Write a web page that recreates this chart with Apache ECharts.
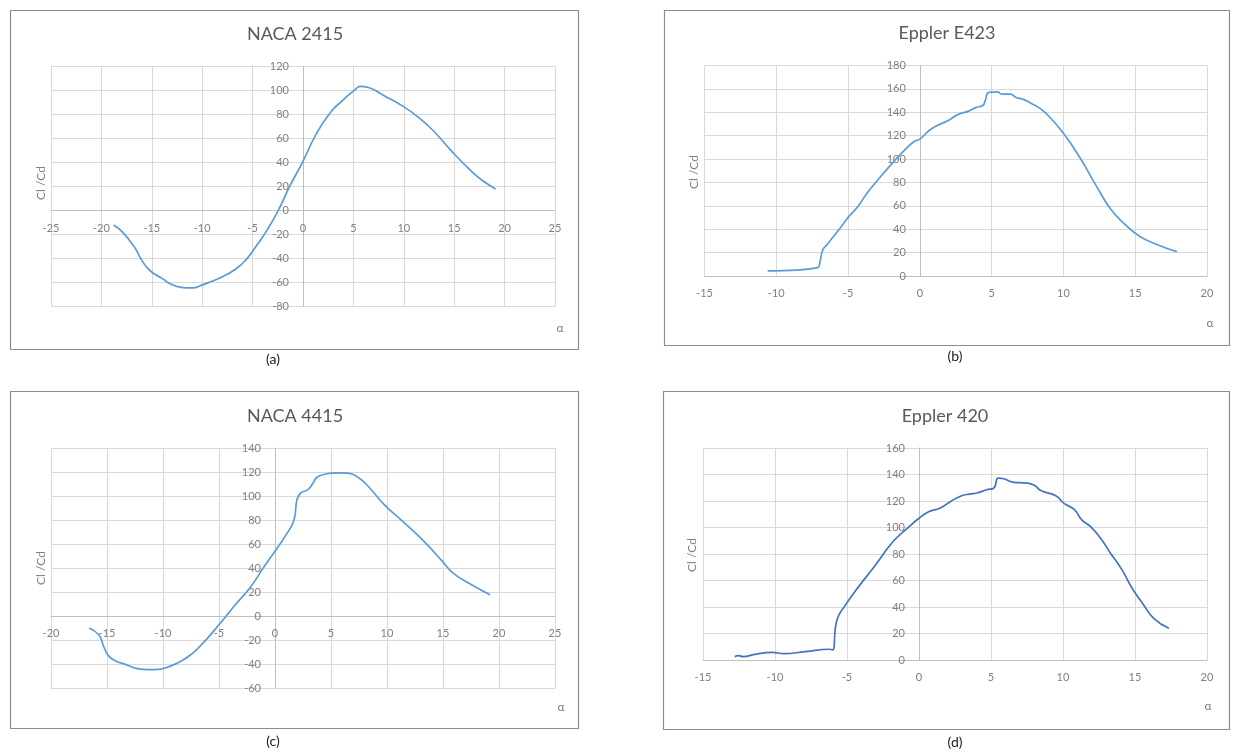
<!DOCTYPE html>
<html>
<head>
<meta charset="utf-8">
<script src="https://cdn.jsdelivr.net/npm/echarts@6/dist/echarts.min.js"></script>
<style>
html,body{margin:0;padding:0;background:#fff;}
#main{width:1239px;height:753px;}
</style>
</head>
<body>
<div id="main"></div>
<script>
// ---- Data (angle of attack α, Cl/Cd) ----
const titles = ['NACA 2415', 'Eppler E423', 'NACA 4415', 'Eppler 420'];
const captions = ['(a)', '(b)', '(c)', '(d)'];

const alphaA = [-18.8,-17.9,-16.6,-16.1,-15.2,-13.9,-13.2,-12.1,-11.0,-10.0,-8.2,-6.7,-5.6,-4.5,-3.5,-2.4,-1.3,0,1.2,2.7,4.1,5.2,5.7,6.5,8.1,9.9,11.7,13.1,14.9,16.8,17.8,19.1];
const ratioA = [-12,-18,-32,-40,-50,-57,-61,-64,-64.5,-62,-56,-49,-40.5,-28,-15.5,1,20.5,41,62,81.5,93,101,103.5,102.5,95.5,87,76,65,48,32,25,18];

const alphaB = [-10.6,-7.1,-6.97,-6.77,-6.46,-5.45,-4.94,-4.3,-3.67,-2.9,-1.9,-1.15,-0.4,0,0.6,1.1,1.9,2.65,3.4,3.9,4.4,4.55,4.8,5.4,5.7,6.3,6.7,7.2,7.7,8.5,9.2,10.0,10.8,11.5,12.3,13.3,14.3,15.3,16.5,17.9];
const ratioB = [4.3,7.1,11.4,22,27,42.6,51,59.7,71,82.5,96.7,106.6,115,117,124,128,132.5,138,141,144,146,150,157,157.5,155.5,155.5,152.7,151,148,142,133.8,122,108,94,76.8,57,44,34,27,20.8];

const alphaC = [-16.6,-15.7,-15.35,-14.9,-14.25,-13.3,-12.3,-11.3,-10.4,-9.4,-8.4,-7.45,-6.5,-5.5,-4.5,-3.55,-2.25,-0.95,0,1.0,1.7,1.96,2.29,2.94,3.4,3.75,4.55,5.5,6.5,7.5,8.45,9.75,11.4,13.3,14.95,15.9,17.55,19.2];
const ratioC = [-10,-16,-24,-32.8,-37.2,-40.5,-43.9,-44.7,-44.4,-42,-37.8,-31.7,-23.3,-12.8,-1.7,9.4,23.3,41.4,54,67.8,80.3,97,102.5,105.3,110.8,115.6,118.3,119.2,119,115,106.7,92.8,78.9,62.2,45.5,35.8,26.1,17.8];

const alphaD = [-12.8,-12.55,-12.2,-11.4,-10.2,-9.4,-7.9,-6.2,-6.0,-5.7,-5.1,-4.1,-3.1,-1.8,-0.8,0,0.7,1.45,2.2,2.96,3.5,4.0,4.7,5.2,5.5,5.9,6.5,7.5,8.0,8.5,9.5,10.05,10.8,11.3,11.9,12.6,13.3,14.1,14.8,15.6,16.3,17.35];
const ratioD = [2.5,3.3,2.5,4.3,5.8,4.8,6.3,8.1,7.6,30.2,41.6,56.7,70.5,89.4,99.5,107,112,114.6,119.7,124,125.2,126,128.5,129.8,137.3,136.8,134.3,133.5,131.8,127.7,124,118.4,113.4,105.8,100.8,92,80.6,68,54.2,41.6,31.5,23.9];

const xRanges = [[-25,25],[-15,20],[-20,25],[-15,20]];
const yRanges = [[-80,120],[0,180],[-60,140],[0,160]];
const xNames = ['α','α','α','α'];
const yNames = ['Cl /Cd','Cl /Cd','Cl /Cd','Cl /Cd'];

// ---- Layout ----
const FONT = 'Lato, "Open Sans", sans-serif';
const grids = [
  {left:51, top:66.5, width:504, height:240},
  {left:704.5, top:65.5, width:502.5, height:210.5},
  {left:51, top:448, width:504, height:240},
  {left:703, top:448, width:504, height:212}
];
const boxes = [
  {x:10.5, y:10.5, w:568, h:339},
  {x:664.5, y:10.5, w:565, h:335},
  {x:10.5, y:391.5, w:568, h:337},
  {x:663.5, y:391.5, w:566, h:338}
];
const titlePos = [[295,34],[947,33],[295,416],[945,416]];
const captionPos = [[273,359],[955,356],[273,741],[955,742]];
const alphaPos = [[560,328],[1210,323],[561,707],[1208,706]];
const ylabPos = [[41,183],[694,172],[41,568],[692,555]];
const lineColors = ['#5b9bd5','#5b9bd5','#5b9bd5','#4472c4'];
const xs = [alphaA, alphaB, alphaC, alphaD];
const ys = [ratioA, ratioB, ratioC, ratioD];

// axes cross at zero (Excel style): shift axes from the grid edge to the zero position
function zeroShift(range, size) { return size * (0 - range[0]) / (range[1] - range[0]); }

const option = {
  animation:false,
  backgroundColor:'#fff',
  grid: grids.map(g => Object.assign({containLabel:false}, g)),
  xAxis: grids.map((g,i) => ({
    type:'value', gridIndex:i, min:xRanges[i][0], max:xRanges[i][1], interval:5,
    position:'bottom', offset:-zeroShift(yRanges[i], g.height),
    axisLine:{show:true, onZero:false, lineStyle:{color:'#bfbfbf', width:1}},
    axisTick:{show:false},
    axisLabel:{color:'#7f7f7f', fontSize:11, fontFamily:FONT, margin:12},
    splitLine:{show:true, lineStyle:{color:'#d9d9d9', width:1}}
  })),
  yAxis: grids.map((g,i) => ({
    type:'value', gridIndex:i, min:yRanges[i][0], max:yRanges[i][1], interval:20,
    position:'left', offset:-zeroShift(xRanges[i], g.width),
    axisLine:{show:true, onZero:false, lineStyle:{color:'#bfbfbf', width:1}},
    axisTick:{show:false},
    axisLabel:{color:'#7f7f7f', fontSize:11, fontFamily:FONT, margin:14},
    splitLine:{show:true, lineStyle:{color:'#d9d9d9', width:1}}
  })),
  series: xs.map((arr,i) => ({
    type:'line', xAxisIndex:i, yAxisIndex:i, showSymbol:false, symbol:'none',
    smooth:0.5,
    lineStyle:{color:lineColors[i], width:1.7},
    data: arr.map((x,k) => [x, ys[i][k]])
  })),
  graphic: []
};

boxes.forEach(b => option.graphic.push({
  type:'rect', shape:{x:b.x, y:b.y, width:b.w, height:b.h},
  style:{fill:'none', stroke:'#8c8c8c', lineWidth:1.2}, silent:true
}));
titles.forEach((t,i) => option.graphic.push({
  type:'text', x:titlePos[i][0], y:titlePos[i][1],
  style:{text:t, fill:'#595959', font:'18px ' + FONT, align:'center', verticalAlign:'middle'}
}));
captions.forEach((t,i) => option.graphic.push({
  type:'text', x:captionPos[i][0], y:captionPos[i][1],
  style:{text:t, fill:'#222', font:'14px ' + FONT, align:'center', verticalAlign:'middle'}
}));
xNames.forEach((t,i) => option.graphic.push({
  type:'text', x:alphaPos[i][0], y:alphaPos[i][1],
  style:{text:t, fill:'#7f7f7f', font:'12px ' + FONT, align:'center', verticalAlign:'middle'}
}));
yNames.forEach((t,i) => option.graphic.push({
  type:'text', x:ylabPos[i][0], y:ylabPos[i][1], rotation:Math.PI/2,
  style:{text:t, fill:'#7f7f7f', font:'12px ' + FONT, align:'center', verticalAlign:'middle'}
}));

const chart = echarts.init(document.getElementById('main'), null, {renderer:'canvas'});
chart.setOption(option);
</script>
</body>
</html>
